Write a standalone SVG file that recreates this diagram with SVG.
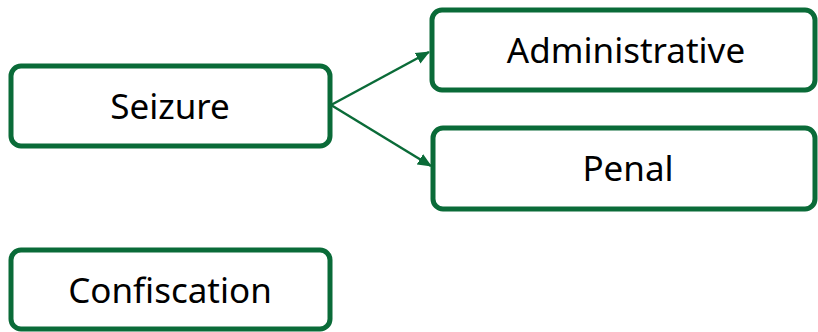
<svg xmlns="http://www.w3.org/2000/svg" width="818" height="332" viewBox="0 0 818 332">
<style>
.box{fill:#fff;stroke:#0a6b38;stroke-width:5}
.t{font-family:"Noto Sans","Open Sans",sans-serif;font-size:35px;fill:#000;text-anchor:middle;dominant-baseline:central}
.c{stroke:#0a6b38;stroke-width:2.5;fill:none}
</style>
<defs>
<marker id="ah" markerWidth="14" markerHeight="14" refX="13" refY="6" orient="auto" markerUnits="userSpaceOnUse" viewBox="0 0 14 12">
<path d="M0,0 L14,6 L0,12 z" fill="#0a6b38"/>
</marker>
</defs>
<g id="connectors">
<line class="c" x1="331" y1="105" x2="429" y2="52" marker-end="url(#ah)"/>
<line class="c" x1="331" y1="105" x2="431" y2="166" marker-end="url(#ah)"/>
</g>
<g id="seizure"><rect class="box" x="11" y="66" width="319" height="80" rx="10"/><text class="t" x="170" y="105">Seizure</text></g>
<g id="administrative"><rect class="box" x="432" y="10" width="383" height="80" rx="10"/><text class="t" x="626" y="49">Administrative</text></g>
<g id="penal"><rect class="box" x="433" y="128" width="382" height="81" rx="10"/><text class="t" x="628" y="167">Penal</text></g>
<g id="confiscation"><rect class="box" x="11" y="250" width="319" height="79" rx="10"/><text class="t" x="170" y="289">Confiscation</text></g>
</svg>
